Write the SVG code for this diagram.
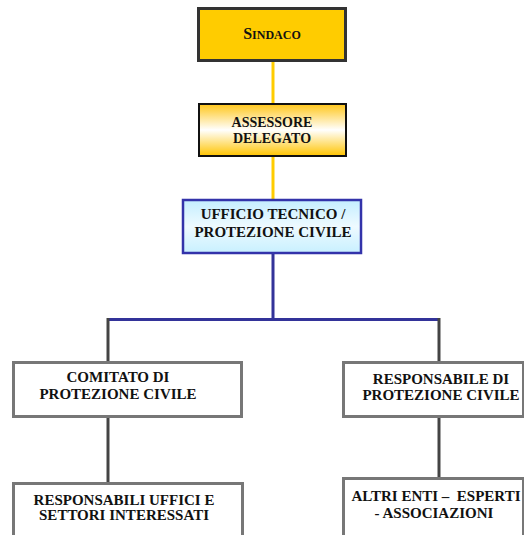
<svg xmlns="http://www.w3.org/2000/svg" width="524" height="535" viewBox="0 0 524 535">
<style>
.t{font-family:"Liberation Serif","Times New Roman",serif;font-weight:bold;fill:#111;text-anchor:middle;font-size:15px}
.gbox{fill:#fff;stroke:#777;stroke-width:3}
.conn{fill:none;stroke-width:3}
</style>
<defs>
<linearGradient id="gy" x1="0" y1="0" x2="0" y2="1">
<stop offset="0" stop-color="#FFC61A"/>
<stop offset="0.5" stop-color="#FFFFFF"/>
<stop offset="1" stop-color="#FFC400"/>
</linearGradient>
<linearGradient id="gc" x1="0" y1="0" x2="0" y2="1">
<stop offset="0" stop-color="#C4EEFF"/>
<stop offset="0.5" stop-color="#EEFAFF"/>
<stop offset="1" stop-color="#C8F0FF"/>
</linearGradient>
</defs>
<g id="connectors">
<line class="conn" x1="273" y1="62" x2="273" y2="103" stroke="#FFCC00"/>
<line class="conn" x1="273" y1="157" x2="273" y2="199" stroke="#FFCC00"/>
<polyline class="conn" points="273,254 273,319.5 108,319.5" stroke="#333399"/>
<line class="conn" x1="273" y1="319.5" x2="439" y2="319.5" stroke="#333399"/>
<line class="conn" x1="108" y1="318" x2="108" y2="362" stroke="#444"/>
<line class="conn" x1="439" y1="318" x2="439" y2="361" stroke="#444"/>
<line class="conn" x1="108" y1="417" x2="108" y2="483" stroke="#444"/>
<line class="conn" x1="439" y1="417" x2="439" y2="478" stroke="#444"/>
</g>
<g id="sindaco">
<rect x="198.5" y="8.5" width="147" height="52" fill="#FFCC00" stroke="#333" stroke-width="3"/>
<text class="t" x="272" y="39"><tspan font-size="16">S</tspan><tspan font-size="12">INDACO</tspan></text>
</g>
<g id="assessore">
<rect x="199" y="104" width="147" height="52" fill="url(#gy)" stroke="#111" stroke-width="2"/>
<text class="t" x="272" y="127" style="font-size:14px">ASSESSORE</text>
<text class="t" x="272" y="143" style="font-size:14px">DELEGATO</text>
</g>
<g id="ufficio">
<rect x="183" y="200" width="178" height="53" fill="url(#gc)" stroke="#3333AA" stroke-width="2.5"/>
<text class="t" x="273" y="219">UFFICIO TECNICO /</text>
<text class="t" x="273" y="237">PROTEZIONE CIVILE</text>
</g>
<g id="comitato">
<rect class="gbox" x="13.5" y="362.5" width="228" height="54"/>
<text class="t" x="118" y="382">COMITATO DI</text>
<text class="t" x="118" y="399">PROTEZIONE CIVILE</text>
</g>
<g id="responsabile">
<rect class="gbox" x="343.5" y="362.5" width="180" height="54"/>
<text class="t" x="441" y="384">RESPONSABILE DI</text>
<text class="t" x="441" y="400">PROTEZIONE CIVILE</text>
</g>
<g id="responsabili-uffici">
<rect class="gbox" x="13.5" y="483.5" width="229" height="60"/>
<text class="t" x="124" y="505">RESPONSABILI UFFICI E</text>
<text class="t" x="124" y="520">SETTORI INTERESSATI</text>
</g>
<g id="altri-enti">
<rect class="gbox" x="343.5" y="478.5" width="180" height="65"/>
<text class="t" x="436" y="501" style="white-space:pre" xml:space="preserve">ALTRI ENTI –  ESPERTI</text>
<text class="t" x="434" y="518">- ASSOCIAZIONI</text>
</g>
</svg>
